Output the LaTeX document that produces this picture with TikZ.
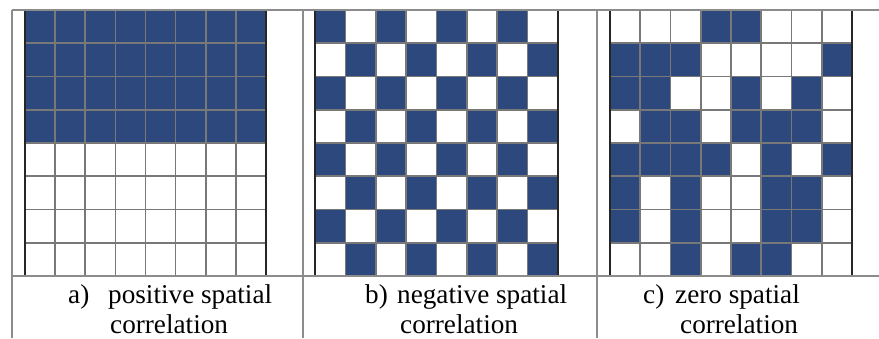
\documentclass[tikz,border=0pt]{standalone}
\usepackage{fontspec}
\setmainfont{Liberation Serif}
\definecolor{cellblue}{RGB}{44,72,125}
\definecolor{tabgray}{RGB}{140,140,140}
\definecolor{gridgray}{RGB}{120,120,120}
\tikzset{
  tabline/.style={draw=tabgray, line width=1.4pt},
  gridline/.style={draw=gridgray, line width=1.6pt},
  gridframe/.style={draw=black!85, line width=1.7pt},
  cell/.style={fill=cellblue},
  lbl/.style={inner sep=0pt, anchor=base west, font=\fontsize{27.2}{30}\selectfont}
}
\begin{document}
\begin{tikzpicture}[x=1pt,y=-1pt]
\useasboundingbox (0,0) rectangle (879,338);
\fill[white] (0,0) rectangle (879,338);

% ---- grid a: positive spatial correlation
\begin{scope}[shift={(25,10)}]
  \def\cw{30.125}\def\ch{33.25}
  \fill[cell] (0,0) rectangle (8*\cw,4*\ch);
  \foreach \k in {1,...,7}{
    \draw[gridline] (\k*\cw,0) -- (\k*\cw,8*\ch);
    \draw[gridline] (0,\k*\ch) -- (8*\cw,\k*\ch);
  }
  \draw[gridframe] (0,0) rectangle (8*\cw,8*\ch);
\end{scope}

% ---- grid b: negative spatial correlation
\begin{scope}[shift={(315,10)}]
  \def\cw{30.375}\def\ch{33.25}
  \foreach \i in {0,...,7}{
    \foreach \j in {0,...,7}{
      \pgfmathtruncatemacro\myparity{mod(\i+\j,2)}
      \ifnum\myparity=0
        \fill[cell] (\j*\cw,\i*\ch) rectangle ++(\cw,\ch);
      \fi
    }
  }
  \foreach \k in {1,...,7}{
    \draw[gridline] (\k*\cw,0) -- (\k*\cw,8*\ch);
    \draw[gridline] (0,\k*\ch) -- (8*\cw,\k*\ch);
  }
  \draw[gridframe] (0,0) rectangle (8*\cw,8*\ch);
\end{scope}

% ---- grid c: zero spatial correlation
\begin{scope}[shift={(610,10)}]
  \def\cw{30.25}\def\ch{33.25}
  \foreach \row [count=\i from 0] in {
      {0,0,0,1,1,0,0,0},
      {1,1,1,0,0,0,0,1},
      {1,1,0,0,1,0,1,0},
      {0,1,1,0,1,1,1,0},
      {1,1,1,1,0,1,0,1},
      {1,0,1,0,0,1,1,0},
      {1,0,1,0,0,1,1,0},
      {0,0,1,0,1,1,0,0}}{
    \foreach \v [count=\j from 0] in \row {
      \ifnum\v=1
        \fill[cell] (\j*\cw,\i*\ch) rectangle ++(\cw,\ch);
      \fi
    }
  }
  \foreach \k in {1,...,7}{
    \draw[gridline] (\k*\cw,0) -- (\k*\cw,8*\ch);
    \draw[gridline] (0,\k*\ch) -- (8*\cw,\k*\ch);
  }
  \draw[gridframe] (0,0) rectangle (8*\cw,8*\ch);
\end{scope}

% ---- table rules
\coordinate (tl) at (12,10);
\coordinate (tr) at (879,10);
\coordinate (bl) at (12,338);
\coordinate (s1t) at (303,10);
\coordinate (s1b) at (303,338);
\coordinate (s2t) at (597,10);
\coordinate (s2b) at (597,338);
\coordinate (ml) at (12,276);
\coordinate (mr) at (879,276);
\draw[tabline] (tl) -- (tr);
\draw[tabline] (tl) -- (bl);
\draw[tabline] (s1t) -- (s1b);
\draw[tabline] (s2t) -- (s2b);
\draw[tabline] (ml) -- (mr);

% ---- captions
\node[lbl] (la) at (68,303) {a)};
\node[lbl] (la1) at (108,303) {positive spatial};
\node[lbl] (la2) at (110,333) {correlation};
\node[lbl] (lb) at (365,303) {b)};
\node[lbl] (lb1) at (397,303) {negative spatial};
\node[lbl] (lb2) at (400,333) {correlation};
\node[lbl] (lc) at (643,303) {c)};
\node[lbl] (lc1) at (675,303) {zero spatial};
\node[lbl] (lc2) at (680,333) {correlation};
\end{tikzpicture}
\end{document}
